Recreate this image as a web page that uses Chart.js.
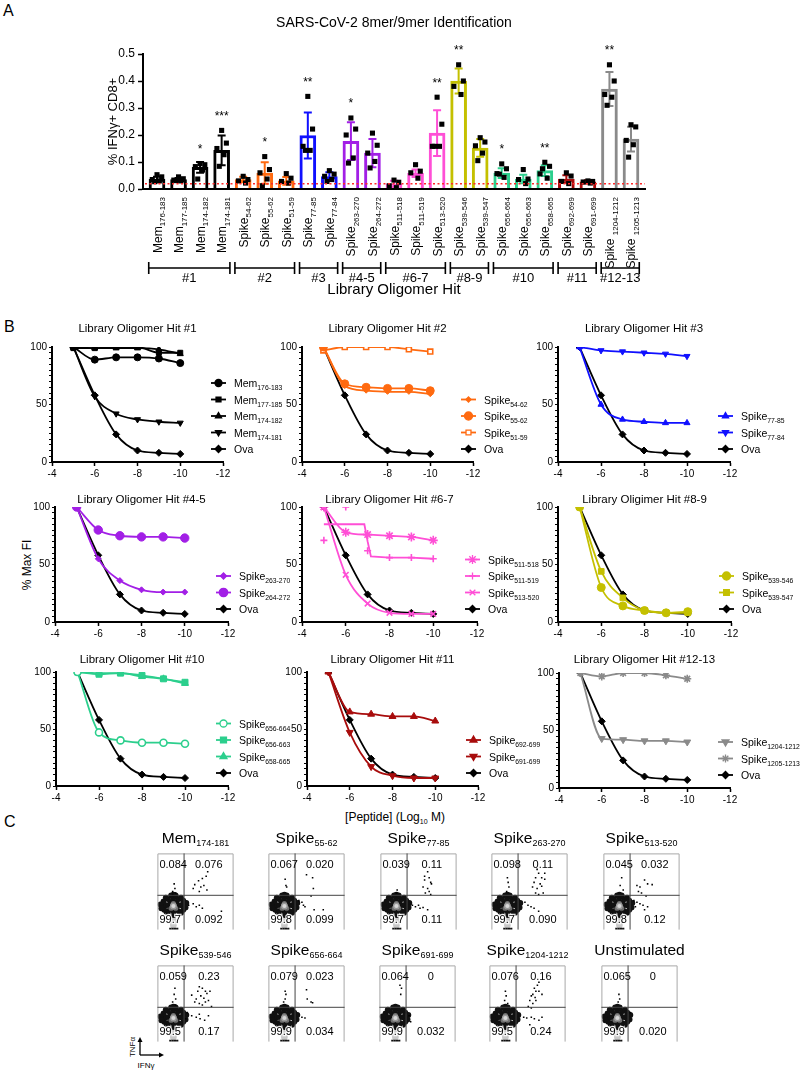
<!DOCTYPE html>
<html>
<head>
<meta charset="utf-8">
<title>SARS-CoV-2 8mer/9mer Identification</title>
<script src="https://cdn.jsdelivr.net/npm/chart.js@4.4.1/dist/chart.umd.min.js"></script>
<style>
  body { margin: 0; background: #fff; }
  #page { position: relative; width: 800px; height: 1071px; overflow: hidden; font-family: 'Liberation Sans', Arial, sans-serif; color: #000; }
  #page canvas { position: absolute; }
  .txt { position: absolute; white-space: nowrap; line-height: 1; color: #000; }
  .panel { font-size: 16px; }
  .ft { position: absolute; width: 140px; text-align: center; font-size: 15.5px; white-space: nowrap; line-height: 18px; }
  .ft span { font-size: 9px; position: relative; top: 3px; }
</style>
</head>
<body>
<div id="page">
  <div class="txt panel" style="left:3px;top:3px">A</div>
  <div class="txt panel" style="left:4px;top:319px">B</div>
  <div class="txt panel" style="left:4px;top:814px">C</div>
  <div class="txt" style="left:27px;top:565px;font-size:12px;transform:translate(-50%,-50%) rotate(-90deg)">% Max FI</div>
  <div class="txt" style="left:395px;top:817px;font-size:12px;transform:translate(-50%,-50%)">[Peptide] (Log<span style="font-size:7px;position:relative;top:3px">10</span> M)</div>
  <svg style="position:absolute;left:130px;top:1036px" width="40" height="24">
    <line x1="10" y1="19" x2="10" y2="5" stroke="#000" stroke-width="1.3"/>
    <polygon points="10,1 7.5,6 12.5,6" fill="#000"/>
    <line x1="10" y1="19" x2="30" y2="19" stroke="#000" stroke-width="1.3"/>
    <polygon points="34,19 29,16.5 29,21.5" fill="#000"/>
  </svg>
  <div class="txt" style="left:133px;top:1047px;font-size:8px;transform:translate(-50%,-50%) rotate(-90deg)">TNFα</div>
  <div class="txt" style="left:146px;top:1066px;font-size:8px;transform:translate(-50%,-50%)">IFNγ</div>
</div>
<script>
Chart.defaults.font.family = "'Liberation Sans', Arial, sans-serif"
Chart.defaults.color = '#000'
const FONT = Chart.defaults.font.family
const page = document.getElementById('page')

// ---------- Panel A: % IFNg+ CD8+ per peptide ----------
const peptideNames = ['Mem', 'Mem', 'Mem', 'Mem', 'Spike', 'Spike', 'Spike', 'Spike', 'Spike', 'Spike', 'Spike', 'Spike', 'Spike', 'Spike', 'Spike', 'Spike', 'Spike', 'Spike', 'Spike', 'Spike', 'Spike', 'Spike ', 'Spike ']
const peptideRanges = ['176-183', '177-185', '174-182', '174-181', '54-62', '55-62', '51-59', '77-85', '77-84', '263-270', '264-272', '511-518', '511-519', '513-520', '539-546', '539-547', '656-664', '656-663', '658-665', '692-699', '691-699', '1204-1212', '1205-1213']
const meanIFNg = [0.037, 0.035, 0.080, 0.143, 0.035, 0.059, 0.030, 0.198, 0.046, 0.177, 0.133, 0.019, 0.058, 0.207, 0.400, 0.152, 0.059, 0.037, 0.068, 0.037, 0.027, 0.370, 0.185]
const sdIFNg = [0.008, 0.006, 0.020, 0.055, 0.010, 0.040, 0.014, 0.085, 0.016, 0.070, 0.052, 0.012, 0.014, 0.085, 0.046, 0.033, 0.018, 0.016, 0.020, 0.014, 0.005, 0.063, 0.046]
const replicateIFNg = [
  [0.053, 0.045, 0.035, 0.030, 0.027],
  [0.045, 0.038, 0.033, 0.030, 0.031],
  [0.094, 0.090, 0.083, 0.070, 0.037],
  [0.217, 0.170, 0.150, 0.127, 0.084],
  [0.047, 0.035, 0.030, 0.022],
  [0.120, 0.072, 0.060, 0.037, 0.012],
  [0.057, 0.040, 0.028, 0.022],
  [0.343, 0.222, 0.158, 0.143, 0.143],
  [0.068, 0.055, 0.047, 0.035, 0.028],
  [0.263, 0.222, 0.200, 0.115, 0.096],
  [0.207, 0.162, 0.133, 0.102, 0.078],
  [0.033, 0.025, 0.012, 0.005],
  [0.090, 0.066, 0.060, 0.040],
  [0.340, 0.240, 0.158, 0.158, 0.158],
  [0.460, 0.400, 0.380, 0.350],
  [0.190, 0.174, 0.160, 0.133, 0.105],
  [0.093, 0.075, 0.057, 0.043, 0.055],
  [0.072, 0.037, 0.035, 0.020],
  [0.099, 0.084, 0.056, 0.040, 0.075],
  [0.060, 0.048, 0.028, 0.020],
  [0.030, 0.028, 0.026, 0.022],
  [0.460, 0.400, 0.350, 0.340, 0.310],
  [0.238, 0.230, 0.180, 0.164, 0.118]
]
const sigStars = ['', '', '*', '***', '', '*', '', '**', '', '*', '', '', '', '**', '**', '', '*', '', '**', '', '', '**', '']
const hitLabels = ['#1', '#2', '#3', '#4-5', '#6-7', '#8-9', '#10', '#11', '#12-13']
const hitFirst = [0, 4, 7, 9, 11, 14, 16, 19, 21]
const hitLast = [3, 6, 8, 10, 13, 15, 18, 20, 22]
const backgroundIFNg = 0.019

// ---------- Panel B: dose response, % Max FI ----------
const logPeptide = [-5, -6, -7, -8, -9, -10]
const ova = [100, 58, 24, 10, 8, 7]
const mem176_183 = [100, 89, 91, 91, 90, 86]
const mem177_185 = [99, 99, 100, 100, 95, 95]
const mem174_182 = [100, 99, 99, 99, 98, 94]
const mem174_181 = [100, 57, 42, 37, 35, 34]
const spike54_62 = [100, 66, 62, 61, 61, 59]
const spike55_62 = [100, 68, 65, 64, 64, 62]
const spike51_59 = [97, 100, 100, 100, 98, 96]
const spike77_85 = [100, 50, 37, 35, 34, 34]
const spike77_84 = [100, 97, 96, 95, 94, 92]
const spike263_270 = [100, 55, 36, 28, 26, 26]
const spike264_272 = [100, 80, 75, 74, 74, 73]
const spike511_518 = [100, 78, 76, 75, 74, 71]
const spike511_519 = [71, 100, 62, 56, 56, 55]
const spike513_520 = [100, 41, 16, 8, 7, 7]
const spike539_546 = [100, 30, 14, 10, 8, 9]
const spike539_547 = [100, 44, 21, 10, 8, 8]
const spike656_664 = [100, 47, 40, 38, 38, 37]
const spike656_663 = [100, 98, 99, 97, 94, 91]
const spike658_665 = [100, 99, 99, 96, 94, 90]
const spike692_699 = [100, 65, 63, 61, 61, 57]
const spike691_699 = [100, 47, 17, 9, 7, 7]
const spike1204_1212 = [100, 43, 42, 41, 41, 40]
const spike1205_1213 = [100, 97, 100, 100, 98, 95]
// fitted curve for Spike511-519
const fit511_519X = [-5, -6, -6.85, -7, -7.15, -8, -9, -10]
const fit511_519Y = [85, 85, 85, 70, 57, 56, 56, 55]

// ---------- Panel C: flow plots (TNFa vs IFNg), event positions in % of the box ----------
const flowNames = ['Mem', 'Spike', 'Spike', 'Spike', 'Spike', 'Spike', 'Spike', 'Spike', 'Spike', 'Unstimulated']
const flowRanges = ['174-181', '55-62', '77-85', '263-270', '513-520', '539-546', '656-664', '691-699', '1204-1212', '']
const pctTNFaOnly = ['0.084', '0.067', '0.039', '0.098', '0.045', '0.059', '0.079', '0.064', '0.076', '0.065']
const pctDouble = ['0.076', '0.020', '0.11', '0.11', '0.032', '0.23', '0.023', '0', '0.16', '0']
const pctNegative = ['99.7', '99.8', '99.7', '99.7', '99.8', '99.5', '99.9', '99.9', '99.5', '99.9']
const pctIFNgOnly = ['0.092', '0.099', '0.11', '0.090', '0.12', '0.17', '0.034', '0.032', '0.24', '0.020']
const coreX = [21, 26, 16, 21, 21, 25, 17, 25, 17, 31, 11, 21, 21, 28, 14, 28, 14, 35, 7, 21, 21, 31, 11, 31, 12, 34, 8, 34, 9, 38, 4, 18, 24, 5, 37]
const coreY = [32, 32, 32, 37, 27, 36, 36, 28, 28, 32, 32, 42, 22, 40, 40, 24, 24, 33, 32, 46, 19, 42, 42, 22, 23, 38, 37, 26, 26, 35, 33, 45, 45, 28, 29]
const innerX = [21, 18, 24, 21]
const innerY = [30, 28, 28, 34]
const tailX = [21, 21, 21, 19, 23, 20, 22]
const tailY = [14, 9, 4, 11, 11, 6, 6]
const baseBarX = [17, 20, 23, 26]
const evMem174_181 = [[66, 76], [64, 70], [59, 67], [54, 64], [49, 59], [57, 56], [61, 58], [47, 54], [65, 52], [55, 50], [41, 32], [47, 34], [51, 30], [55, 32], [59, 28], [84, 24], [22, 60], [23, 54], [20, 50], [24, 48], [20, 46]]
const evSpike55_62 = [[50, 72], [58, 68], [59, 54], [22, 66], [23, 58], [24, 56], [44, 36], [46, 32], [48, 30], [56, 44], [60, 26], [72, 26], [40, 38]]
const evSpike77_85 = [[62, 76], [58, 70], [64, 68], [58, 65], [66, 62], [67, 60], [56, 56], [62, 54], [64, 50], [59, 48], [66, 46], [42, 32], [46, 30], [50, 32], [52, 28], [56, 29], [62, 26], [22, 52], [21, 48]]
const evSpike263_270 = [[60, 79], [62, 74], [70, 74], [58, 68], [66, 68], [56, 62], [64, 60], [70, 66], [54, 56], [60, 54], [66, 57], [58, 48], [62, 46], [68, 48], [44, 36], [48, 32], [52, 30], [56, 28], [62, 24], [21, 68], [22, 62], [23, 56], [20, 50]]
const evSpike513_520 = [[54, 65], [44, 58], [48, 56], [58, 60], [64, 59], [46, 50], [50, 48], [40, 38], [44, 36], [48, 34], [52, 32], [56, 44], [58, 30], [54, 26], [42, 30], [24, 68], [22, 58], [26, 52]]
const evSpike539_546 = [[55, 72], [59, 70], [63, 66], [53, 66], [65, 63], [57, 60], [61, 57], [51, 56], [67, 54], [63, 52], [55, 50], [59, 48], [45, 61], [49, 52], [69, 66], [71, 46], [39, 38], [45, 34], [51, 32], [56, 30], [62, 28], [37, 30], [55, 36], [67, 34], [23, 70], [22, 62], [24, 56], [20, 52], [24, 48]]
const evSpike656_664 = [[50, 68], [51, 56], [56, 52], [58, 51], [44, 32], [48, 31], [22, 66], [23, 62], [22, 56], [20, 52]]
const evSpike691_699 = [[35, 38], [39, 34], [41, 26], [27, 74], [29, 70], [28, 62]]
const evSpike1204_1212 = [[65, 78], [63, 74], [59, 70], [61, 66], [57, 62], [55, 60], [60, 58], [53, 54], [57, 50], [51, 46], [55, 44], [61, 54], [69, 62], [65, 66], [45, 32], [49, 31], [55, 32], [59, 30], [65, 28], [53, 22], [69, 32], [21, 66], [22, 60], [20, 54], [24, 50]]
const evUnstimulated = [[38, 38], [23, 62], [24, 56], [22, 52]]
const flowEvents = [evMem174_181, evSpike55_62, evSpike77_85, evSpike263_270, evSpike513_520, evSpike539_546, evSpike656_664, evSpike691_699, evSpike1204_1212, evUnstimulated]

// colours
const COL = { black: '#000000', orange: '#ff6a10', blue: '#1010ff', purple: '#a21fe6', pink: '#ff4fd6', olive: '#c4c000', green: '#2ccf8d', red: '#a80c0c', gray: '#8a8a8a' }
const barColors = [COL.black, COL.black, COL.black, COL.black, COL.orange, COL.orange, COL.orange, COL.blue, COL.blue, COL.purple, COL.purple, COL.pink, COL.pink, COL.pink, COL.olive, COL.olive, COL.green, COL.green, COL.green, COL.red, COL.red, COL.gray, COL.gray]

function addCanvas (left, top, w, h) {
  const cv = document.createElement('canvas')
  cv.width = w
  cv.height = h
  cv.style.left = left + 'px'
  cv.style.top = top + 'px'
  cv.style.width = w + 'px'
  cv.style.height = h + 'px'
  page.appendChild(cv)
  return cv
}

// text with a subscript part
function subText (ctx, base, sub, x, y, size, subSize, align) {
  ctx.font = size + 'px ' + FONT
  const wb = ctx.measureText(base).width
  ctx.font = subSize + 'px ' + FONT
  const ws = sub ? ctx.measureText(sub).width : 0
  let x0 = x
  if (align === 'right') x0 = x - wb - ws
  if (align === 'center') x0 = x - (wb + ws) / 2
  ctx.textAlign = 'left'
  ctx.textBaseline = 'alphabetic'
  ctx.font = size + 'px ' + FONT
  ctx.fillText(base, x0, y)
  if (sub) {
    ctx.font = subSize + 'px ' + FONT
    ctx.fillText(sub, x0 + wb, y + size * 0.3)
  }
}

// ---------- Panel A chart ----------
const A_LEFT = 143
const A_RIGHT = 645
const A_TOP = 54
const A_BOTTOM = 189
const jitter = [0, 0.22, -0.22, 0.11, -0.11]
const replicatePoints = []
replicateIFNg.forEach((arr, i) => arr.forEach((v, j) => replicatePoints.push({ x: i + jitter[j], y: v })))

const panelAPlugin = {
  id: 'panelA',
  afterDatasetDraw (chart, args) {
    if (args.index !== 0) return
    const { ctx, scales: { x, y } } = chart
    ctx.save()
    ctx.lineWidth = 2
    meanIFNg.forEach((m, i) => {
      const px = x.getPixelForValue(i)
      const hi = y.getPixelForValue(m + sdIFNg[i])
      const lo = y.getPixelForValue(Math.max(0, m - sdIFNg[i]))
      ctx.strokeStyle = barColors[i]
      ctx.beginPath()
      ctx.moveTo(px, hi)
      ctx.lineTo(px, lo)
      ctx.moveTo(px - 4, hi)
      ctx.lineTo(px + 4, hi)
      ctx.moveTo(px - 4, lo)
      ctx.lineTo(px + 4, lo)
      ctx.stroke()
    })
    ctx.restore()
  },
  afterDatasetsDraw (chart) {
    const { ctx, chartArea: area, scales: { x, y } } = chart
    ctx.save()
    // unstimulated background level
    ctx.strokeStyle = '#ff2a2a'
    ctx.lineWidth = 1.5
    ctx.setLineDash([2, 2.5])
    const by = y.getPixelForValue(backgroundIFNg)
    ctx.beginPath()
    ctx.moveTo(area.left + 2, by)
    ctx.lineTo(area.right, by)
    ctx.stroke()
    ctx.setLineDash([])
    ctx.strokeStyle = '#000'
    ctx.lineWidth = 2
    ctx.beginPath()
    ctx.moveTo(area.left - 1, area.bottom)
    ctx.lineTo(area.right, area.bottom)
    ctx.stroke()
    // significance stars
    ctx.fillStyle = '#000'
    ctx.font = '12px ' + FONT
    ctx.textAlign = 'center'
    ctx.textBaseline = 'alphabetic'
    sigStars.forEach((s, i) => {
      if (!s) return
      const top = Math.max(...replicateIFNg[i])
      ctx.fillText(s, x.getPixelForValue(i), y.getPixelForValue(top + 0.065) + 7)
    })
    ctx.restore()
  },
  afterDraw (chart) {
    const { ctx, chartArea: area, scales: { x } } = chart
    ctx.save()
    ctx.fillStyle = '#000'
    peptideNames.forEach((name, i) => {
      ctx.save()
      ctx.translate(x.getPixelForValue(i), 197)
      ctx.rotate(-Math.PI / 2)
      subText(ctx, name, peptideRanges[i], 0, 4.5, 12, 8, 'right')
      ctx.restore()
    })
    ctx.strokeStyle = '#000'
    ctx.lineWidth = 1.6
    ctx.font = '13px ' + FONT
    ctx.textAlign = 'center'
    ctx.textBaseline = 'alphabetic'
    hitLabels.forEach((lab, g) => {
      const l = x.getPixelForValue(hitFirst[g] - 0.5) + 2.5
      const r = x.getPixelForValue(hitLast[g] + 0.5) - 2.5
      ctx.beginPath()
      ctx.moveTo(l, 268)
      ctx.lineTo(r, 268)
      ctx.moveTo(l, 262)
      ctx.lineTo(l, 274)
      ctx.moveTo(r, 262)
      ctx.lineTo(r, 274)
      ctx.stroke()
      ctx.fillText(lab, (l + r) / 2, 282)
    })
    ctx.font = '15px ' + FONT
    ctx.fillText('Library Oligomer Hit', (area.left + area.right) / 2, 294)
    ctx.font = '14px ' + FONT
    ctx.fillText('SARS-CoV-2 8mer/9mer Identification', (area.left + area.right) / 2, 27)
    ctx.translate(113, (area.top + area.bottom) / 2)
    ctx.rotate(-Math.PI / 2)
    ctx.font = '13px ' + FONT
    ctx.textBaseline = 'middle'
    ctx.fillText('% IFNγ+ CD8+', 0, 0)
    ctx.restore()
  }
}

new Chart(addCanvas(0, 0, 800, 300), {
  type: 'bar',
  data: {
    datasets: [
      { type: 'bar', data: meanIFNg.map((v, i) => ({ x: i, y: v })), backgroundColor: '#fff', borderColor: barColors, borderWidth: 3, barThickness: 16, order: 2 },
      { type: 'scatter', data: replicatePoints, pointStyle: 'rect', pointRadius: 3.6, backgroundColor: '#000', borderColor: '#000', borderWidth: 0, order: 1 }
    ]
  },
  options: {
    responsive: false,
    animation: false,
    events: [],
    layout: { padding: { left: A_LEFT - 45, right: 800 - A_RIGHT, top: A_TOP, bottom: 300 - A_BOTTOM - 2 } },
    plugins: { legend: { display: false }, tooltip: { enabled: false } },
    scales: {
      x: { type: 'linear', offset: false, min: -0.65, max: 22.65, afterFit: s => { s.height = 2 }, ticks: { display: false }, grid: { display: false, offset: false }, border: { color: '#000', width: 2 } },
      y: {
        min: 0,
        max: 0.5,
        afterFit: s => { s.width = 45 },
        ticks: { stepSize: 0.1, callback: v => v.toFixed(1), font: { size: 12 }, color: '#000', padding: 3 },
        grid: { drawOnChartArea: false, tickLength: 5, tickColor: '#000', tickWidth: 1.5 },
        border: { color: '#000', width: 2 }
      }
    }
  },
  plugins: [panelAPlugin]
})

// ---------- Panel B charts ----------
const hitPanels = [
  { title: 'Library Oligomer Hit #1', area: [52, 347, 223, 462], titleY: 329, series: [
    { name: 'Mem', range: '176-183', values: mem176_183, color: COL.black, marker: 'circle' },
    { name: 'Mem', range: '177-185', values: mem177_185, color: COL.black, marker: 'rect' },
    { name: 'Mem', range: '174-182', values: mem174_182, color: COL.black, marker: 'triangle' },
    { name: 'Mem', range: '174-181', values: mem174_181, color: COL.black, marker: 'triangle', rot: 180 },
    { name: 'Ova', range: '', values: ova, color: COL.black, marker: 'rectRot' }] },
  { title: 'Library Oligomer Hit #2', area: [302, 347, 473, 462], titleY: 329, series: [
    { name: 'Spike', range: '54-62', values: spike54_62, color: COL.orange, marker: 'rectRot', size: 2.5 },
    { name: 'Spike', range: '55-62', values: spike55_62, color: COL.orange, marker: 'circle', size: 4 },
    { name: 'Spike', range: '51-59', values: spike51_59, color: COL.orange, marker: 'rect', open: true },
    { name: 'Ova', range: '', values: ova, color: COL.black, marker: 'rectRot' }] },
  { title: 'Library Oligomer Hit #3', area: [558, 347, 730, 462], titleY: 329, series: [
    { name: 'Spike', range: '77-85', values: spike77_85, color: COL.blue, marker: 'triangle' },
    { name: 'Spike', range: '77-84', values: spike77_84, color: COL.blue, marker: 'triangle', rot: 180 },
    { name: 'Ova', range: '', values: ova, color: COL.black, marker: 'rectRot' }] },
  { title: 'Library Oligomer Hit #4-5', area: [55, 507, 228, 622], titleY: 500, series: [
    { name: 'Spike', range: '263-270', values: spike263_270, color: COL.purple, marker: 'rectRot', size: 3 },
    { name: 'Spike', range: '264-272', values: spike264_272, color: COL.purple, marker: 'circle', size: 4.2 },
    { name: 'Ova', range: '', values: ova, color: COL.black, marker: 'rectRot' }] },
  { title: 'Library Oligomer Hit #6-7', area: [302, 507, 477, 622], titleY: 500, series: [
    { name: 'Spike', range: '511-518', values: spike511_518, color: COL.pink, marker: 'star', size: 4.5 },
    { name: 'Spike', range: '511-519', values: spike511_519, color: COL.pink, marker: 'cross', size: 3.5, fitX: fit511_519X, fitY: fit511_519Y },
    { name: 'Spike', range: '513-520', values: spike513_520, color: COL.pink, marker: 'crossRot', size: 4 },
    { name: 'Ova', range: '', values: ova, color: COL.black, marker: 'rectRot' }] },
  { title: 'Library Oligimer Hit #8-9', area: [558, 507, 731, 622], titleY: 500, series: [
    { name: 'Spike', range: '539-546', values: spike539_546, color: COL.olive, marker: 'circle', size: 4 },
    { name: 'Spike', range: '539-547', values: spike539_547, color: COL.olive, marker: 'rect', size: 4 },
    { name: 'Ova', range: '', values: ova, color: COL.black, marker: 'rectRot' }] },
  { title: 'Library Oligomer Hit #10', area: [56, 672, 228, 786], titleY: 660, series: [
    { name: 'Spike', range: '656-664', values: spike656_664, color: COL.green, marker: 'circle', open: true },
    { name: 'Spike', range: '656-663', values: spike656_663, color: COL.green, marker: 'rect', size: 4.2 },
    { name: 'Spike', range: '658-665', values: spike658_665, color: COL.green, marker: 'triangle', size: 4 },
    { name: 'Ova', range: '', values: ova, color: COL.black, marker: 'rectRot' }] },
  { title: 'Library Oligomer Hit #11', area: [307, 672, 478, 786], titleY: 660, series: [
    { name: 'Spike', range: '692-699', values: spike692_699, color: COL.red, marker: 'triangle', size: 4 },
    { name: 'Spike', range: '691-699', values: spike691_699, color: COL.red, marker: 'triangle', rot: 180, size: 4 },
    { name: 'Ova', range: '', values: ova, color: COL.black, marker: 'rectRot' }] },
  { title: 'Library Oligomer Hit #12-13', area: [559, 673, 730, 788], titleY: 660, series: [
    { name: 'Spike', range: '1204-1212', values: spike1204_1212, color: COL.gray, marker: 'triangle', rot: 180, size: 4 },
    { name: 'Spike', range: '1205-1213', values: spike1205_1213, color: COL.gray, marker: 'star', size: 4 },
    { name: 'Ova', range: '', values: ova, color: COL.black, marker: 'rectRot' }] }
]

const YW = 26
const XH = 18

function hitDecor (p) {
  return {
    id: 'hitDecor',
    afterDraw (chart) {
      const { ctx, chartArea: a } = chart
      ctx.save()
      ctx.fillStyle = '#000'
      ctx.font = '11.5px ' + FONT
      ctx.textAlign = 'center'
      ctx.textBaseline = 'middle'
      ctx.fillText(p.title, (a.left + a.right) / 2, a.top - (p.area[1] - p.titleY))
      const tx = a.right + 11
      const n = p.series.length
      p.series.forEach((s, k) => {
        const yy = a.bottom - 13 - (n - 1 - k) * 16.5
        ctx.strokeStyle = s.color
        ctx.lineWidth = 1.8
        ctx.beginPath()
        ctx.moveTo(tx - 23, yy)
        ctx.lineTo(tx - 8, yy)
        ctx.stroke()
        ctx.fillStyle = s.open ? '#fff' : s.color
        ctx.lineWidth = 1.3
        Chart.helpers.drawPoint(ctx, { pointStyle: s.marker, radius: s.size || 3.5, rotation: s.rot || 0, borderWidth: 1.3 }, tx - 15.5, yy)
        ctx.fillStyle = '#000'
        subText(ctx, s.name, s.range, tx, yy + 4, 10.5, 6.8, 'left')
      })
      ctx.restore()
    }
  }
}

function hitChart (p) {
  const [ax0, ay0, ax1, ay1] = p.area
  const left = ax0 - 40
  const top = p.titleY - 10
  const right = ax1 + 100
  const bottom = ay1 + 22
  const datasets = []
  p.series.forEach(s => {
    const filled = s.open ? '#fff' : s.color
    datasets.push({
      data: logPeptide.map((v, i) => ({ x: v, y: s.values[i] })),
      borderColor: s.color,
      backgroundColor: filled,
      pointBorderColor: s.color,
      pointBackgroundColor: filled,
      pointStyle: s.marker,
      pointRotation: s.rot || 0,
      pointRadius: s.size || 3.5,
      pointBorderWidth: s.open || s.marker === 'star' || s.marker.startsWith('cross') ? 1.6 : 1,
      borderWidth: 1.8,
      showLine: !s.fitX,
      cubicInterpolationMode: 'monotone'
    })
    if (s.fitX) {
      datasets.push({
        data: s.fitX.map((v, i) => ({ x: v, y: s.fitY[i] })),
        borderColor: s.color,
        borderWidth: 1.8,
        pointRadius: 0,
        tension: 0
      })
    }
  })
  new Chart(addCanvas(left, top, right - left, bottom - top), {
    type: 'line',
    data: { datasets },
    options: {
      responsive: false,
      animation: false,
      events: [],
      layout: { padding: { left: ax0 - left - YW, top: ay0 - top, right: right - ax1, bottom: bottom - ay1 - XH } },
      plugins: { legend: { display: false }, tooltip: { enabled: false } },
      scales: {
        x: {
          type: 'linear',
          min: -12,
          max: -4,
          reverse: true,
          afterFit: s => { s.height = XH },
          ticks: { stepSize: 2, font: { size: 10 }, color: '#000', padding: 2, maxRotation: 0, autoSkip: false },
          grid: { drawOnChartArea: false, tickLength: 4, tickColor: '#000', tickWidth: 1.5 },
          border: { color: '#000', width: 2 }
        },
        y: {
          min: 0,
          max: 100,
          afterFit: s => { s.width = YW },
          ticks: { stepSize: 5, autoSkip: false, callback: v => (v % 50 === 0 ? v : ''), font: { size: 10 }, color: '#000', padding: 2 },
          grid: { drawOnChartArea: false, tickLength: 3, tickColor: '#000', tickWidth: 1.2 },
          border: { color: '#000', width: 2 }
        }
      }
    },
    plugins: [hitDecor(p)]
  })
}
hitPanels.forEach(hitChart)

// ---------- Panel C flow plots ----------
const FLOW_SIZE = 85
const flowLefts = [153, 264, 376, 487, 599, 153, 264, 375, 485, 597]
const flowTops = [849, 849, 849, 849, 849, 961, 961, 961, 961, 961]
const GATE_X = 35
const GATE_Y = 45

function flowDecor (k) {
  return {
    id: 'flowDecor',
    afterDatasetsDraw (chart) {
      const { ctx, chartArea: a, scales: { x, y } } = chart
      const gx = x.getPixelForValue(GATE_X)
      const gy = y.getPixelForValue(GATE_Y)
      ctx.save()
      ctx.strokeStyle = '#a8a8a8'
      ctx.lineWidth = 1
      ctx.beginPath()
      ctx.moveTo(a.left + 0.5, a.bottom)
      ctx.lineTo(a.left + 0.5, a.top + 0.5)
      ctx.lineTo(a.right - 0.5, a.top + 0.5)
      ctx.lineTo(a.right - 0.5, a.bottom)
      ctx.stroke()
      ctx.strokeStyle = '#444'
      ctx.beginPath()
      ctx.moveTo(gx, a.top)
      ctx.lineTo(gx, a.bottom)
      ctx.moveTo(a.left, gy)
      ctx.lineTo(a.right, gy)
      ctx.stroke()
      ctx.font = '11px ' + FONT
      ctx.textBaseline = 'alphabetic'
      ctx.textAlign = 'left'
      ctx.fillStyle = '#000'
      ctx.fillText(pctTNFaOnly[k], a.left + 2, a.top + 15)
      // the negative-quadrant value sits over the main population
      ctx.strokeStyle = 'rgba(255,255,255,0.85)'
      ctx.lineWidth = 2.5
      ctx.strokeText(pctNegative[k], a.left + 2, a.bottom - 7)
      ctx.fillText(pctNegative[k], a.left + 2, a.bottom - 7)
      ctx.textAlign = 'center'
      ctx.fillText(pctDouble[k], (gx + a.right) / 2, a.top + 15)
      ctx.fillText(pctIFNgOnly[k], (gx + a.right) / 2, a.bottom - 7)
      ctx.restore()
    }
  }
}

flowEvents.forEach((ev, k) => {
  const left = flowLefts[k]
  const top = flowTops[k]
  new Chart(addCanvas(left - 1, top - 1, FLOW_SIZE + 2, FLOW_SIZE + 2), {
    type: 'scatter',
    data: {
      datasets: [
        { data: tailX.map((v, i) => ({ x: v, y: tailY[i] })), pointRadius: 2.6, backgroundColor: '#c8c8c8', borderWidth: 0, order: 6 },
        { data: baseBarX.map(v => ({ x: v, y: 0.8 })), pointStyle: 'rect', pointRadius: 1.6, backgroundColor: '#111', borderWidth: 0, order: 5 },
        { data: coreX.map((v, i) => ({ x: v, y: coreY[i] })), pointRadius: 2.9, backgroundColor: '#111', borderWidth: 0, order: 4 },
        { data: innerX.map((v, i) => ({ x: v, y: innerY[i] })), pointRadius: 2.6, backgroundColor: '#6e6e6e', borderWidth: 0, order: 3 },
        { data: [{ x: 21, y: 31 }], pointRadius: 2.8, backgroundColor: '#d8d8d8', borderColor: '#9a9a9a', borderWidth: 1.4, order: 2 },
        { data: ev.map(e => ({ x: e[0], y: e[1] })), pointStyle: 'rect', pointRadius: 1.1, backgroundColor: '#000', borderWidth: 0, order: 1 }
      ]
    },
    options: {
      responsive: false,
      animation: false,
      events: [],
      layout: { padding: 1 },
      plugins: { legend: { display: false }, tooltip: { enabled: false } },
      scales: { x: { display: false, min: 0, max: 100 }, y: { display: false, min: 0, max: 100 } }
    },
    plugins: [flowDecor(k)]
  })
  const t = document.createElement('div')
  t.className = 'ft'
  t.style.left = (left + FLOW_SIZE / 2 - 70) + 'px'
  t.style.top = (top - 20) + 'px'
  t.innerHTML = flowNames[k] + (flowRanges[k] ? '<span>' + flowRanges[k] + '</span>' : '')
  page.appendChild(t)
})
</script>
</body>
</html>
